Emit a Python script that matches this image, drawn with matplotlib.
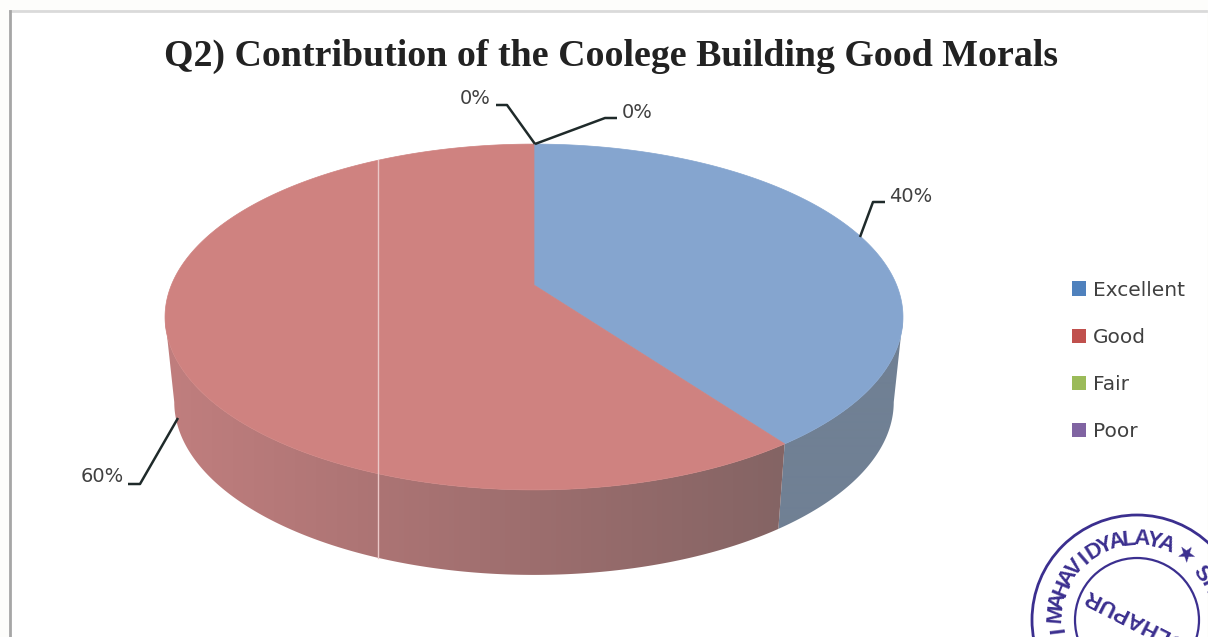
import numpy as np
import matplotlib
matplotlib.use("Agg")
import matplotlib.pyplot as plt
from matplotlib.patches import Patch, Circle, Polygon

title = "Q2) Contribution of the Coolege Building Good Morals"
categories = ["Excellent", "Good", "Fair", "Poor"]
values = [40, 60, 0, 0]
legend_colors = ["#4F81BD", "#C0504D", "#9BBB59", "#8064A2"]
top_colors = ["#85A5CF", "#CF8280", "#9BBB59", "#8064A2"]

# label text position and leader line points, one per slice
label_pos = [(911, 196), (102, 476), (637, 113), (475, 98)]
leaders = [
    [(860, 237), (873, 202), (885, 202)],
    [(178, 418), (140, 484), (128, 484)],
    [(535, 144), (605, 118), (617, 118)],
    [(535, 144), (507, 105), (496, 105)],
]

# perspective of the pie disc in pixels
cx, cy = 534, 285
k = 0.185
ax_y = 167
sx = 362.6
depth = 85
shrink = 0.975


def rim(theta, lower=False):
    u = np.sin(theta)
    v = np.cos(theta)
    x = sx * u / (1 + k * v)
    y = cy - ax_y * v / (1 + k * v)
    if lower:
        return cx + shrink * x, y + depth
    return cx + x, y


def wall_ramp(i):
    # left to right colour ramp for the side of a slice, 0-1 rgb
    xs = np.arange(150, 920)
    if i == 0:
        rgb = np.tile([112, 128, 148], (len(xs), 1))
    else:
        rgb = np.column_stack([
            np.interp(xs, [170, 378, 783], [192, 172, 132]),
            np.interp(xs, [170, 378, 783], [126, 116, 100]),
            np.interp(xs, [170, 378, 783], [126, 116, 100]),
        ])
    return rgb[np.newaxis, :, :] / 255


fig = plt.figure(figsize=(12.08, 6.37), dpi=100, facecolor="#FDFDFB")
ax = fig.add_axes([0, 0, 1, 1])
ax.axis("off")

# chart frame
ax.fill([10, 1206, 1206, 10], [11, 11, 660, 660], color="white", zorder=0)
ax.plot([10, 1206], [11, 11], color="#DADADA", lw=2, zorder=1)
ax.plot([10, 10], [11, 637], color="#A6A6A6", lw=2, zorder=1)

ends = np.cumsum(values) / sum(values) * 2 * np.pi
starts = np.r_[0, ends[:-1]]

# side wall first, top of the pie over it
for i in range(len(values)):
    if values[i] == 0:
        continue
    th = np.linspace(starts[i], ends[i], 400)
    # only the part below the widest points of the disc shows
    th = th[np.cos(th) < -k]
    xt, yt = rim(th)
    xb, yb = rim(th, True)
    poly = Polygon(np.column_stack([np.r_[xt, xb[::-1]], np.r_[yt, yb[::-1]]]),
                   closed=True, transform=ax.transData, fc="none", ec="none")
    ax.add_patch(poly)
    im = ax.imshow(wall_ramp(i), extent=(150, 920, 600, 100), aspect="auto", zorder=2,
                   interpolation="bilinear")
    im.set_clip_path(poly)

for i in range(len(values)):
    if values[i] == 0:
        continue
    th = np.linspace(starts[i], ends[i], 300)
    x, y = rim(th)
    ax.fill(np.r_[cx, x], np.r_[cy, y], color=top_colors[i], lw=0.5, zorder=3)

ax.set_xlim(0, 1208)
ax.set_ylim(637, 0)

# pale vertical streak in the scan
ax.plot([378, 378], [160, 558], color="#EBC9C8", lw=1, zorder=4)

for i in range(len(values)):
    pts = np.array(leaders[i])
    ax.plot(pts[:, 0], pts[:, 1], color="#1F2A2A", lw=1.8, zorder=5, solid_capstyle="butt")
    ax.text(label_pos[i][0], label_pos[i][1], f"{values[i]}%", ha="center", va="center",
            fontsize=14, color="#404040", family="DejaVu Sans", zorder=5)

ax.text(611, 56, title, ha="center", va="center", fontsize=27.3, fontweight="bold",
        family="Liberation Serif", color="#222222")

handles = [Patch(facecolor=c, edgecolor="none") for c in legend_colors]
ax.legend(handles, categories, loc="center left", bbox_to_anchor=(1072 / 1208, 1 - 361 / 637),
          frameon=False, fontsize=14.5, labelspacing=1.405, handlelength=0.7, handleheight=0.7,
          handletextpad=0.35, borderpad=0, borderaxespad=0, labelcolor="#404040")

# stamp in the corner
stamp = "#3B2F8F"
sc = (1137, 620)
ax.add_patch(Circle(sc, 105, fill=False, ec=stamp, lw=2, zorder=6))
ax.add_patch(Circle(sc, 62, fill=False, ec=stamp, lw=1.6, zorder=6))
ring = "MAHAVIDYALAYA"
ring_angles = np.linspace(-85, 21, len(ring))
for ch, ang in zip(ring, ring_angles):
    a = np.radians(ang)
    ax.text(sc[0] + 81 * np.sin(a), sc[1] - 81 * np.cos(a), ch, rotation=-ang, rotation_mode="anchor",
            ha="center", va="center", fontsize=16, fontweight="bold", family="Liberation Sans",
            color=stamp, zorder=6)
for ch, ang in [("I", -97), ("★", 36), ("S", 54), ("H", 65)]:
    a = np.radians(ang)
    ax.text(sc[0] + 79 * np.sin(a), sc[1] - 79 * np.cos(a), ch, rotation=-ang, rotation_mode="anchor",
            ha="center", va="center", fontsize=16, fontweight="bold", family=["Liberation Sans", "DejaVu Sans"],
            color=stamp, zorder=6)
ax.text(1141, 622, "KOLHAPUR", rotation=153, rotation_mode="anchor", ha="center", va="center",
        fontsize=16, fontweight="bold", family="Liberation Sans", color=stamp, zorder=6)

fig.savefig("out.png", dpi=100, facecolor=fig.get_facecolor())
